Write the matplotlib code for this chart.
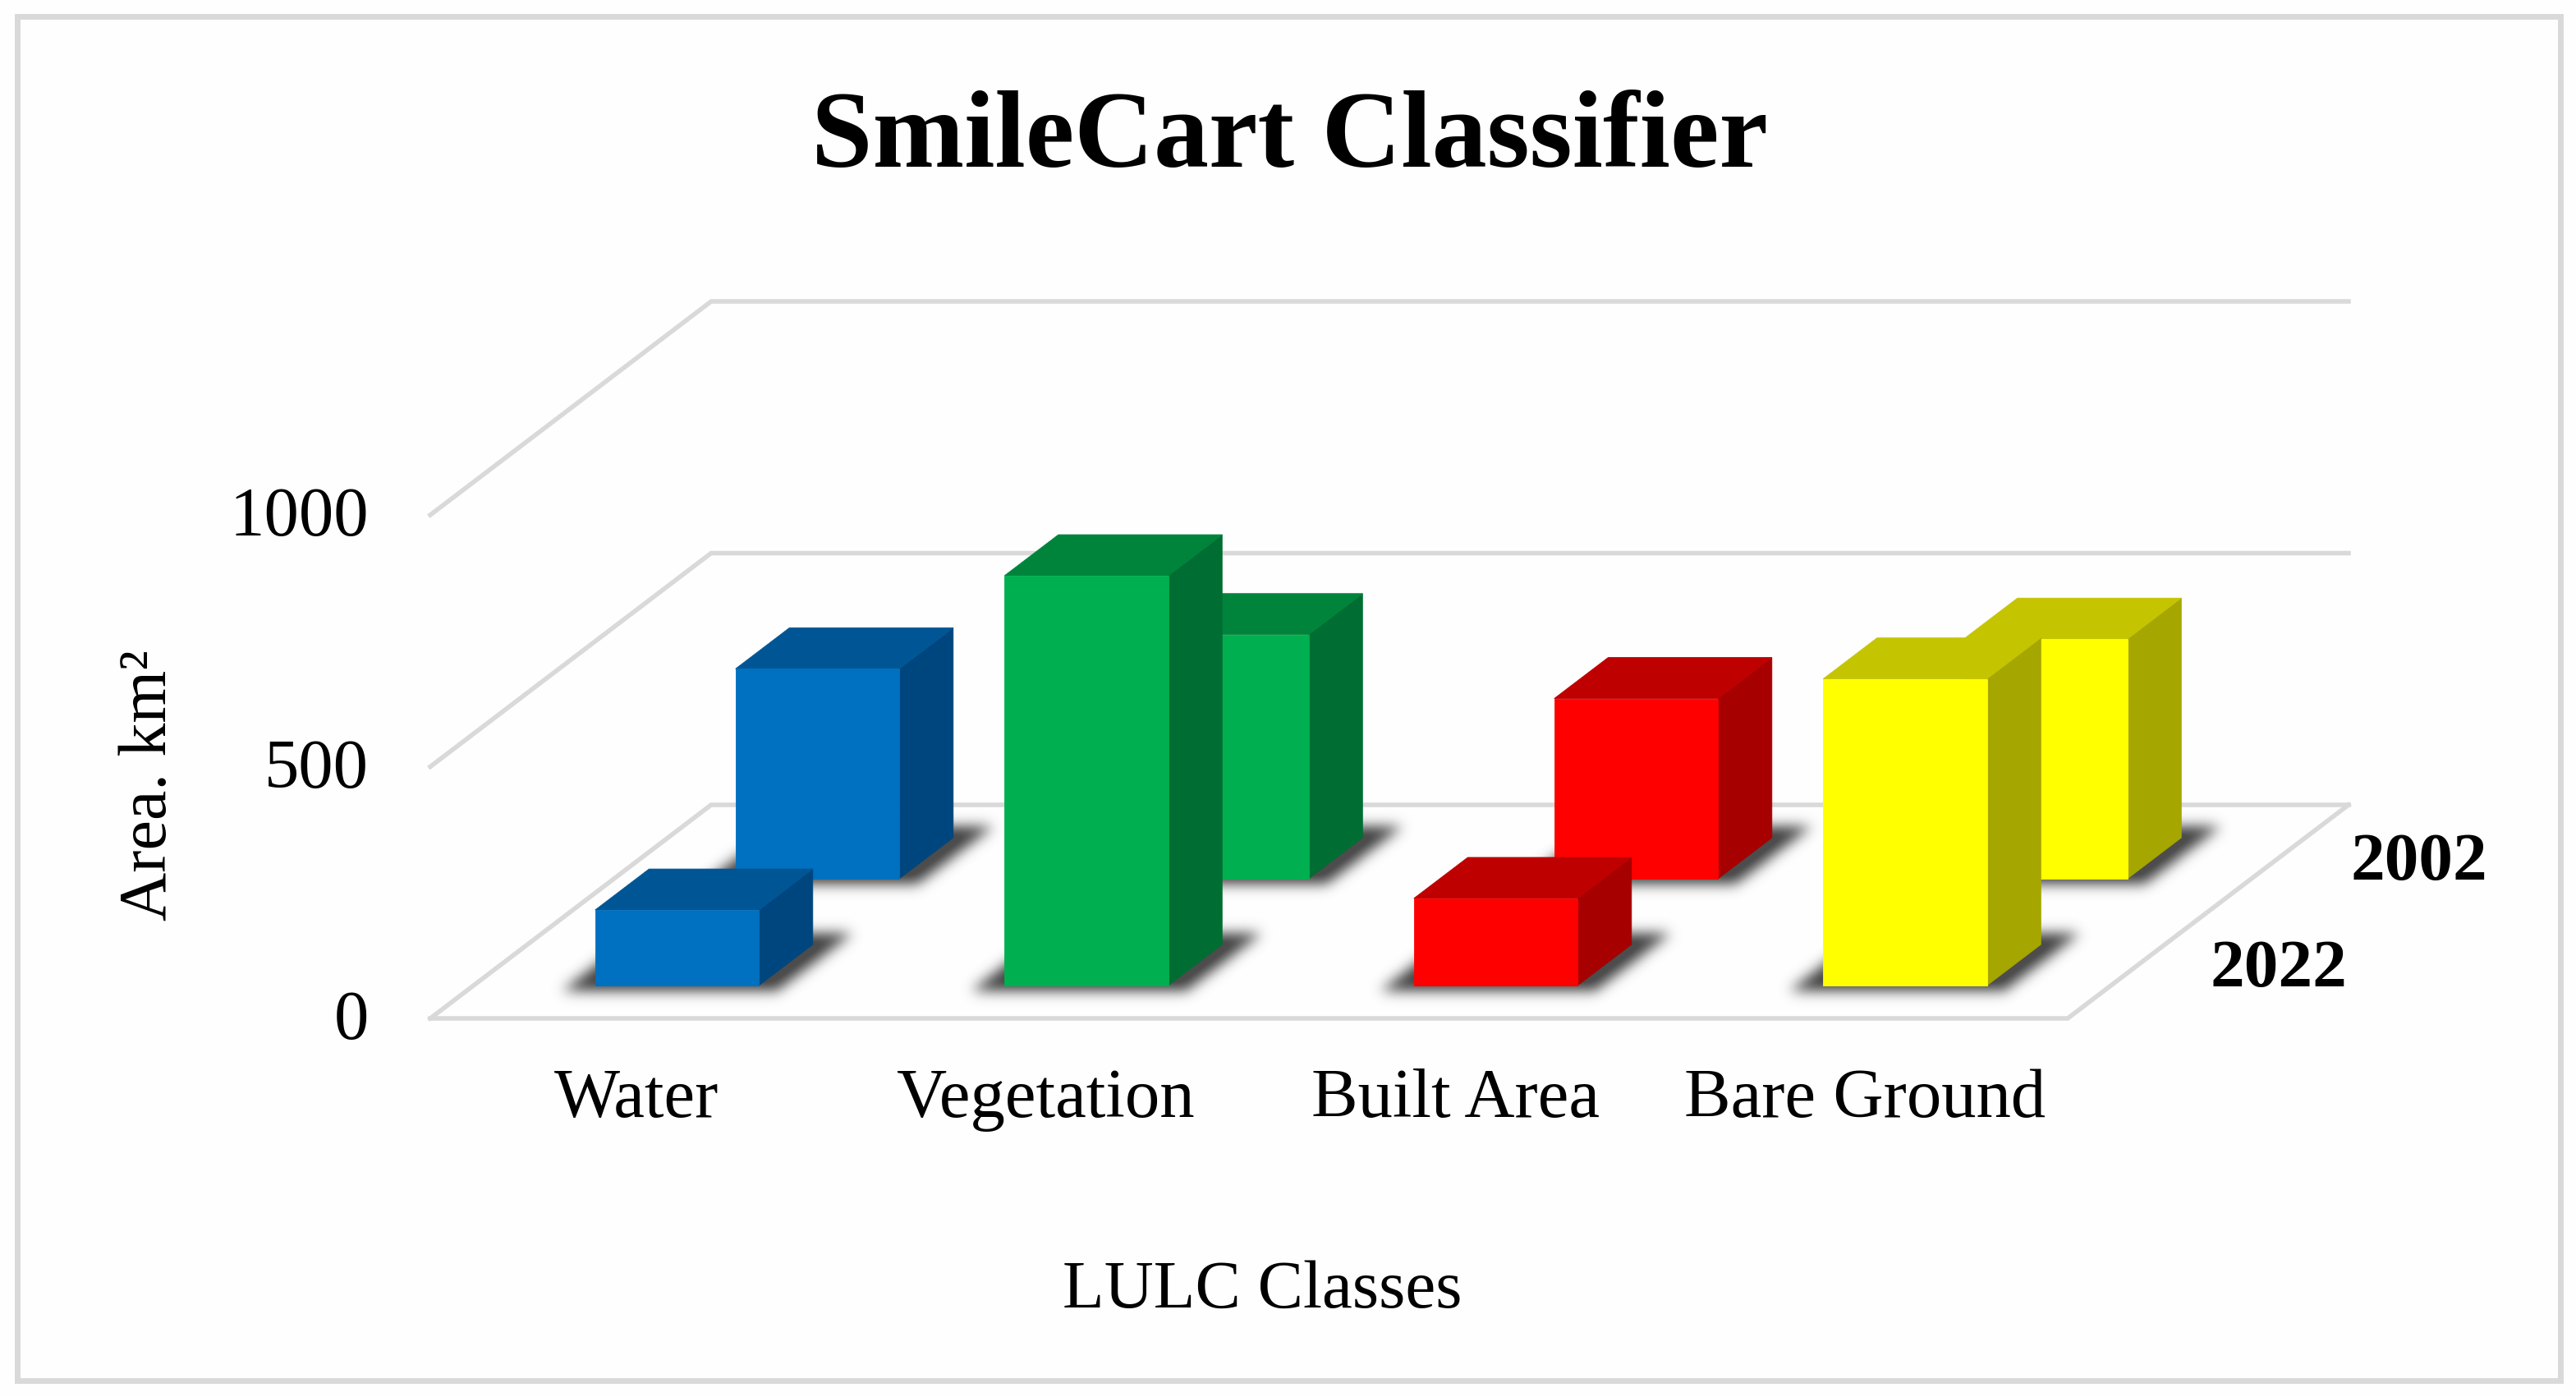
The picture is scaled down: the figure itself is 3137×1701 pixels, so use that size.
import numpy as np
import matplotlib
matplotlib.use("Agg")
import matplotlib.pyplot as plt
from matplotlib.path import Path
from matplotlib.patches import Polygon, Rectangle

plt.rcParams['font.family'] = ['Liberation Serif', 'DejaVu Serif']

# ---- data ----
categories = ["Water", "Vegetation", "Built Area", "Bare Ground"]
series_names = ["2002", "2022"]
values_2002 = [417, 485, 358, 476]
values_2022 = [150, 814, 173, 609]
y_ticks = [0, 500, 1000]
front_colors = ["#0070C0", "#00B050", "#FF0000", "#FFFF00"]
top_colors = ["#005694", "#00843C", "#BF0000", "#C4C400"]
side_colors = ["#00467E", "#006E32", "#A60000", "#A6A600"]
title = "SmileCart Classifier"
x_label = "LULC Classes"
y_label = "Area. km\u00b2"

# ---- geometry of the oblique projection ----
W, H = 3137, 1701
px_per_cat = 498.5      # reference pixels per category
px_per_val = 0.613      # reference pixels per value unit
x0_px, y0_px = 524, 1240
shear_x = 342 / px_per_cat     # x shift (categories) for depth 1
shear_y = 260 / px_per_val     # y shift (values) for depth 1
bar_w = 0.40
bar_d = 0.192
bar_shift = -0.003
row_depth = {"2022": 0.25, "2002": 0.75}

fig = plt.figure(figsize=(W / 100, H / 100), dpi=100, facecolor="#FEFEFE")
ax = fig.add_axes([0, 0, 1, 1])
ax.axis("off")
xlim = (-x0_px / px_per_cat, (W - x0_px) / px_per_cat)
ylim = (-(H - y0_px) / px_per_val, y0_px / px_per_val)


def proj(x, depth, val):
    return (x + depth * shear_x, val + depth * shear_y)


# frame
ax.add_patch(Rectangle((20.5 / W, 1 - 1681 / H), (3118 - 20.5) / W, (1681 - 20) / H,
                       transform=ax.transAxes, fill=False, ec="#D9D9D9", lw=5.0, zorder=1))

# gridlines
GRID = "#D9D9D9"
GRID_LW = 4.0
n = len(categories)
for v in y_ticks:
    p0, p1, p2 = proj(0, 0, v), proj(0, 1, v), proj(n, 1, v)
    ax.plot([p0[0], p1[0], p2[0]], [p0[1], p1[1], p2[1]], color=GRID, lw=GRID_LW,
            solid_joinstyle="miter", zorder=2)
fl = [proj(0, 0, 0), proj(n, 0, 0), proj(n, 1, 0)]
ax.plot([p[0] for p in fl], [p[1] for p in fl], color=GRID, lw=GRID_LW,
        solid_joinstyle="miter", zorder=2)

# shadow grid
gx = np.linspace(*xlim, W // 2)
gy = np.linspace(*ylim, H // 2)
GX, GY = np.meshgrid(gx, gy)
pts = np.column_stack([GX.ravel(), GY.ravel()])


def blur(a, sigma):
    r = int(3 * sigma)
    k = np.exp(-0.5 * (np.arange(-r, r + 1) / sigma) ** 2)
    k /= k.sum()
    a = np.apply_along_axis(lambda m: np.convolve(m, k, mode="same"), 0, a)
    a = np.apply_along_axis(lambda m: np.convolve(m, k, mode="same"), 1, a)
    return a


def draw_shadow(row, z):
    d = row_depth[row]
    mask = np.zeros(GX.shape)
    pad = 0.062
    for i in range(n):
        c = i + 0.5 + bar_shift
        xa, xb = c - bar_w / 2 - pad, c + bar_w / 2 + pad
        df, db = d - bar_d / 2 - 0.03, d + bar_d / 2 + 0.05
        poly = [proj(xa, df, 0), proj(xb, df, 0), proj(xb, db, 0), proj(xa, db, 0)]
        mask += Path(poly).contains_points(pts).reshape(GX.shape)
    mask = np.clip(mask, 0, 1)
    alpha = blur(mask, 4.0)
    rgba = np.zeros(GX.shape + (4,))
    rgba[..., :3] = 0.3
    rgba[..., 3] = np.clip(alpha * 1.1, 0, 1)
    ax.imshow(rgba, extent=(*xlim, *ylim), origin="lower", aspect="auto",
              interpolation="bilinear", zorder=z)


def draw_row(row, vals, z):
    d = row_depth[row]
    df, db = d - bar_d / 2, d + bar_d / 2
    draw_shadow(row, z)
    for i, v in enumerate(vals):
        c = i + 0.5 + bar_shift
        xa, xb = c - bar_w / 2, c + bar_w / 2
        side = [proj(xb, df, 0), proj(xb, db, 0), proj(xb, db, v), proj(xb, df, v)]
        top = [proj(xa, df, v), proj(xb, df, v), proj(xb, db, v), proj(xa, db, v)]
        front = [proj(xa, df, 0), proj(xb, df, 0), proj(xb, df, v), proj(xa, df, v)]
        for poly, col in ((side, side_colors[i]), (top, top_colors[i]), (front, front_colors[i])):
            ax.add_patch(Polygon(poly, closed=True, fc=col, ec=col, lw=0.6, zorder=z + 1))


draw_row("2002", values_2002, 3)
draw_row("2022", values_2022, 5)

# text
fs = 61
ax.text(1570 / W, 1 - 170 / H, title, transform=ax.transAxes, ha="center", va="center",
        fontsize=96.5, fontweight="bold", color="black", zorder=10)
for i, lab in enumerate(categories):
    ax.text(i + 0.5 + 0.004, -163, lab, ha="center", va="center", fontsize=61, color="black", zorder=10)
for v in y_ticks:
    ax.text(-0.151, v - 8, str(v), ha="right", va="center", fontsize=fs, color="black", zorder=10)
ax.text(1537 / W, 1 - 1572 / H, x_label, transform=ax.transAxes, ha="center", va="center",
        fontsize=59.9, color="black", zorder=10)
ax.text(182 / W, 1 - 956 / H, y_label, transform=ax.transAxes, rotation=90, ha="center", va="center",
        fontsize=59, color="black", zorder=10)
for name in series_names:
    px, py = proj(n + 0.176, row_depth[name], -10)
    ax.text(px, py, name, ha="left", va="center", fontsize=60, fontweight="bold", color="black", zorder=10)

ax.set_xlim(*xlim)
ax.set_ylim(*ylim)
fig.savefig("out.png", dpi=100, facecolor=fig.get_facecolor())
